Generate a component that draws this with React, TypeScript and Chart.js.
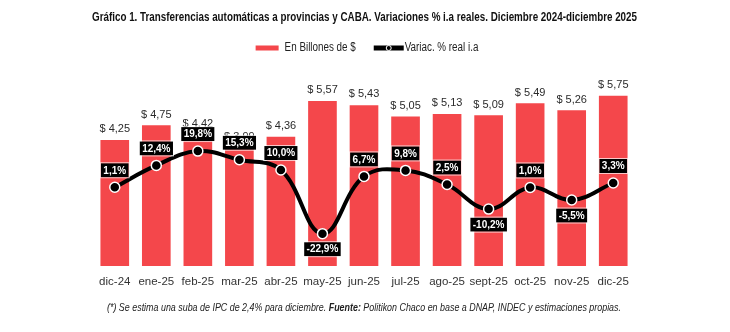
import React, { useEffect, useRef } from "react";
import { Chart, registerables } from "chart.js";

Chart.register(...registerables);

const categories = ["dic-24", "ene-25", "feb-25", "mar-25", "abr-25", "may-25", "jun-25", "jul-25", "ago-25", "sept-25", "oct-25", "nov-25", "dic-25"];
const billones = [4.25, 4.75, 4.42, 3.99, 4.36, 5.57, 5.43, 5.05, 5.13, 5.09, 5.49, 5.26, 5.75];
const billonesLabels = ["$ 4,25", "$ 4,75", "$ 4.42", "$ 3,99", "$ 4,36", "$ 5,57", "$ 5,43", "$ 5,05", "$ 5,13", "$ 5,09", "$ 5,49", "$ 5,26", "$ 5,75"];
const variacion = [1.1, 12.4, 19.8, 15.3, 10.0, -22.9, 6.7, 9.8, 2.5, -10.2, 1.0, -5.5, 3.3];

const TITLE = "Gráfico 1. Transferencias automáticas a provincias y CABA. Variaciones % i.a reales. Diciembre 2024-diciembre 2025";
const FOOT_1 = "(*) Se estima una suba de IPC de 2,4% para diciembre. ";
const FOOT_2 = "Fuente:";
const FOOT_3 = " Politikon Chaco en base a DNAP, INDEC y estimaciones propias.";

const SANS = '"Liberation Sans", Arial, sans-serif';
const RED = "#F4474B";
const NARROW_K = 0.82;

const fmtPct = (v: number) => v.toFixed(1).replace(".", ",") + "%";

// draw text horizontally condensed (narrow look) starting at x (left aligned)
function narrowText(ctx: any, txt: string, x: number, y: number, k: number) {
  ctx.save();
  ctx.translate(x, y);
  ctx.scale(k, 1);
  ctx.textAlign = "left";
  ctx.fillText(txt, 0, 0);
  ctx.restore();
}

const overlayPlugin = {
  id: "overlay",
  afterDatasetDraw(chart: any, args: any) {
    const ctx = chart.ctx;
    if (args.index === 0) {
      const meta = chart.getDatasetMeta(0);
      ctx.save();
      ctx.font = `11px ${SANS}`;
      ctx.fillStyle = "#2a2a2a";
      ctx.textAlign = "center";
      ctx.textBaseline = "alphabetic";
      meta.data.forEach((el: any, i: number) => {
        ctx.fillText(billonesLabels[i], el.x, el.y - 8);
      });
      ctx.restore();
    }
  },
  afterDatasetsDraw(chart: any) {
    const ctx = chart.ctx;
    const meta = chart.getDatasetMeta(1);
    ctx.save();
    ctx.font = `bold 10px ${SANS}`;
    ctx.textAlign = "center";
    ctx.textBaseline = "middle";
    meta.data.forEach((el: any, i: number) => {
      const v = variacion[i];
      const txt = fmtPct(v);
      const w = ctx.measureText(txt).width + 5;
      const h = 14;
      const top = v >= 0 ? el.y - 10 - h : el.y + 8.5;
      const left = el.x - w / 2;
      ctx.fillStyle = "#000";
      ctx.fillRect(left, top, w, h);
      ctx.strokeStyle = "rgba(255,255,255,0.7)";
      ctx.lineWidth = 1;
      ctx.strokeRect(left - 0.5, top - 0.5, w + 1, h + 1);
      ctx.fillStyle = "#fff";
      ctx.fillText(txt, el.x, top + h / 2 + 0.5);
    });
    ctx.restore();
  },
  afterDraw(chart: any) {
    const ctx = chart.ctx;
    ctx.save();
    ctx.textBaseline = "middle";

    // title
    ctx.font = `bold 12px ${SANS}`;
    ctx.fillStyle = "#111";
    const tw = ctx.measureText(TITLE).width;
    const tk = Math.min(1, 545 / tw);
    narrowText(ctx, TITLE, 364.5 - (tw * tk) / 2, 18, tk);

    // legend
    ctx.font = `12px ${SANS}`;
    const ds = chart.data.datasets;
    const t1 = ds[0].label;
    const t2 = ds[1].label;
    const w1 = ctx.measureText(t1).width * NARROW_K;
    const w2 = ctx.measureText(t2).width * NARROW_K;
    const total = 23 + 6 + w1 + 18 + 30 + 1 + w2;
    let x = 367 - total / 2;
    const ly = 48;
    ctx.fillStyle = RED;
    ctx.fillRect(x, ly - 2.5, 23, 5);
    x += 29;
    ctx.fillStyle = "#222";
    narrowText(ctx, t1, x, ly, NARROW_K);
    x += w1 + 18;
    ctx.strokeStyle = "#000";
    ctx.lineWidth = 5;
    ctx.beginPath();
    ctx.moveTo(x, ly);
    ctx.lineTo(x + 30, ly);
    ctx.stroke();
    ctx.beginPath();
    ctx.arc(x + 15, ly, 2.5, 0, Math.PI * 2);
    ctx.fillStyle = "#000";
    ctx.fill();
    ctx.strokeStyle = "#fff";
    ctx.lineWidth = 1;
    ctx.stroke();
    x += 31;
    ctx.fillStyle = "#222";
    narrowText(ctx, t2, x, ly, NARROW_K);

    // footnote
    const fy = 308;
    const fReg = `italic 10.5px ${SANS}`;
    const fBold = `italic bold 10.5px ${SANS}`;
    ctx.font = fReg;
    const a = ctx.measureText(FOOT_1).width;
    const c = ctx.measureText(FOOT_3).width;
    ctx.font = fBold;
    const b = ctx.measureText(FOOT_2).width;
    const fk = Math.min(1, 514 / (a + b + c));
    let fx = 364 - ((a + b + c) * fk) / 2;
    ctx.fillStyle = "#222";
    ctx.font = fReg;
    narrowText(ctx, FOOT_1, fx, fy, fk);
    fx += a * fk;
    ctx.font = fBold;
    narrowText(ctx, FOOT_2, fx, fy, fk);
    fx += b * fk;
    ctx.font = fReg;
    narrowText(ctx, FOOT_3, fx, fy, fk);
    ctx.restore();
  },
};

export default function App() {
  const ref = useRef<HTMLCanvasElement | null>(null);

  useEffect(() => {
    if (!ref.current) return;
    const chart = new Chart(ref.current, {
      type: "bar",
      data: {
        labels: categories,
        datasets: [
          {
            type: "bar",
            label: "En Billones de $",
            data: billones,
            backgroundColor: RED,
            borderWidth: 0,
            barThickness: 28,
            yAxisID: "yBar",
            order: 1,
          } as any,
          {
            type: "line",
            label: "Variac. % real i.a",
            data: variacion,
            borderColor: "#000",
            borderWidth: 4,
            tension: 0.4,
            pointRadius: 5,
            pointBackgroundColor: "#000",
            pointBorderColor: "#fff",
            pointBorderWidth: 1.5,
            yAxisID: "yLine",
            order: 0,
          } as any,
        ],
      },
      options: {
        responsive: false,
        animation: false,
        devicePixelRatio: 1,
        layout: { padding: { left: 94, right: 96, top: 70, bottom: 34 } },
        plugins: {
          legend: { display: false },
          title: { display: false },
          tooltip: { enabled: false },
        },
        scales: {
          x: {
            type: "category",
            offset: true,
            grid: { display: false },
            border: { display: false },
            ticks: {
              color: "#333",
              padding: 1,
              font: { family: SANS, size: 11.5 },
              maxRotation: 0,
              autoSkip: false,
            },
            afterFit: (scale: any) => {
              scale.height = 32;
            },
          },
          yBar: { type: "linear", display: false, min: 0, max: 6.63 },
          yLine: { type: "linear", display: false, min: -39.6, max: 61.7 },
        },
      } as any,
      plugins: [overlayPlugin],
    });
    return () => chart.destroy();
  }, []);

  return (
    <div style={{ position: "absolute", left: 0, top: 0, width: 730, height: 332, background: "#fff" }}>
      <canvas ref={ref} width={730} height={332} />
    </div>
  );
}
